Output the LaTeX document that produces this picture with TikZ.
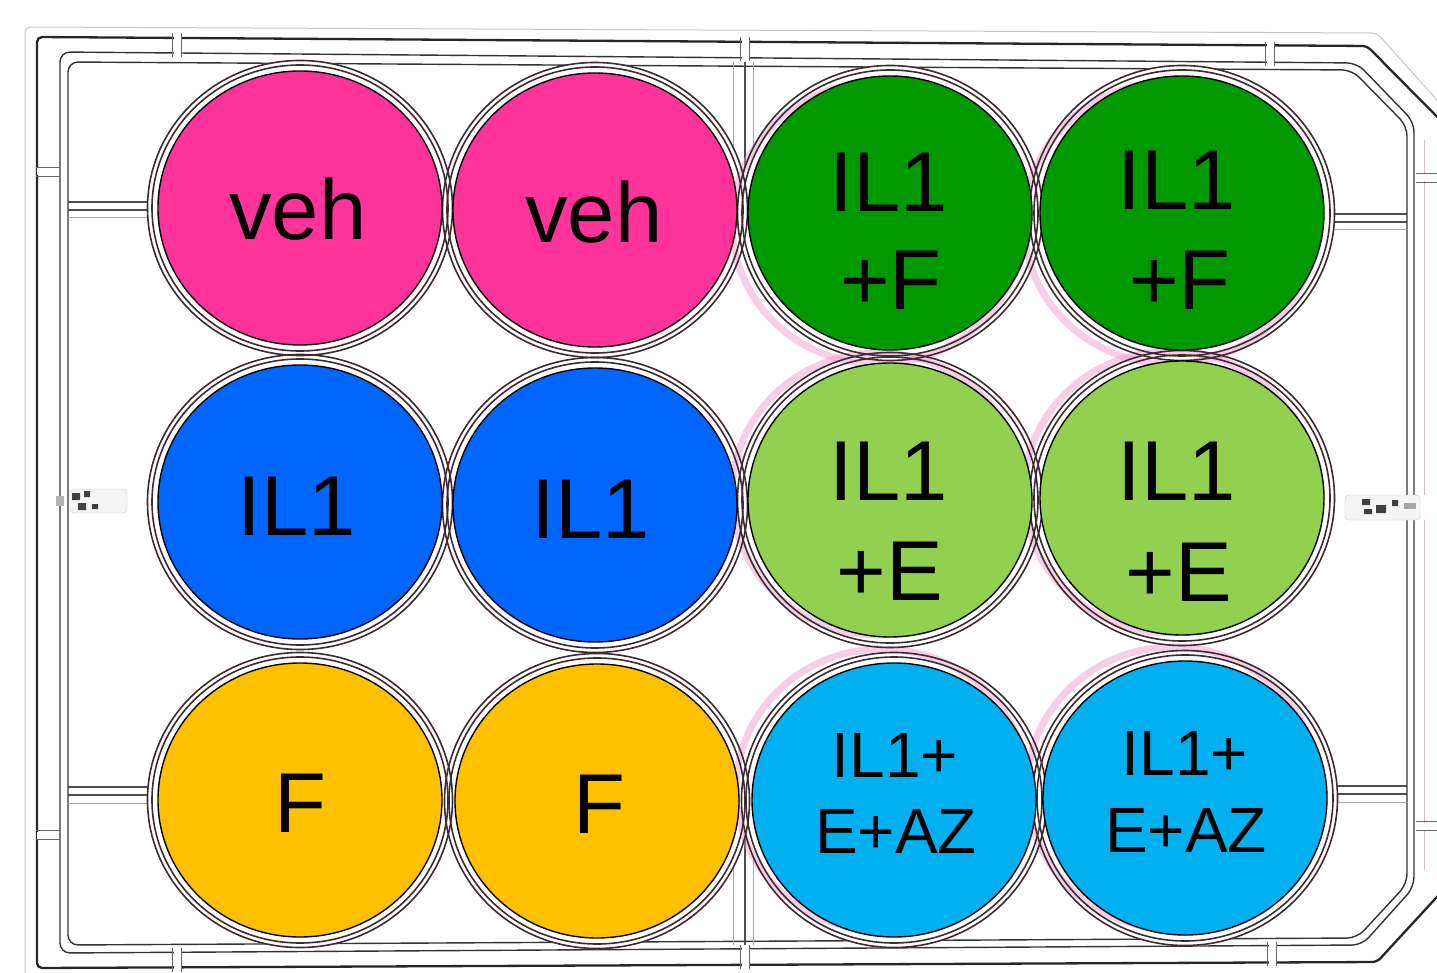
\documentclass[tikz,border=0pt]{standalone}
\usepackage{fontspec}
\setmainfont{Liberation Sans}
\usetikzlibrary{shapes.geometric}

\definecolor{vehpink}{RGB}{255,51,153}
\definecolor{ilblue}{RGB}{0,102,255}
\definecolor{fgold}{RGB}{255,192,0}
\definecolor{ilfgreen}{RGB}{0,153,0}
\definecolor{ilegreen}{RGB}{146,208,80}
\definecolor{azcyan}{RGB}{0,176,240}
\definecolor{rimgray}{RGB}{62,42,50}
\definecolor{pinkhaze}{RGB}{236,150,200}

\begin{document}
\begin{tikzpicture}[x=1pt,y=-1pt,
  well/.style={ellipse, draw=black, line width=1.4pt, minimum width=284pt,
               minimum height=274pt, inner sep=0pt},
  rimline/.style={draw=rimgray, line width=1.6pt},
  lbl/.style={font=\fontsize{85}{98}\selectfont, anchor=base, inner sep=0pt},
  lblsm/.style={font=\fontsize{64}{76}\selectfont, anchor=base, inner sep=0pt},
  outerframe/.style={draw=black!85, line width=2.3pt, rounded corners=5pt},
  innerframe/.style={draw=black!80, line width=1.4pt, rounded corners=10pt},
  ribdark/.style={draw=black!70, line width=1.2pt},
  riblight/.style={draw=black!35, line width=1pt},
  tickline/.style={draw=black!60, line width=1pt},
  gapmark/.pic={
    \fill[white] (-3.5,-11) rectangle (3.5,11);
    \draw[tickline] (-4.5,-12) -- (-4.5,12) (4.5,-12) -- (4.5,12);
  }]

\useasboundingbox (0,0) rectangle (1437,973);
\clip (0,0) rectangle (1437,973);
\fill[white] (0,0) rectangle (1437,973);

% ---------- plate outline ----------
\draw[line width=1pt, black!22, rounded corners=6pt]
  (25,1000) -- (25,27) -- (1377,33) -- (1470,137);
\draw[outerframe]
  (1470,150) -- (1367,46) -- (37,37) -- (37,968) -- (1377,962) -- (1470,861);
\draw[innerframe]
  (60,500) -- (60,52) -- (1357,63) -- (1414,122) -- (1414,887)
  -- (1362,945) -- (60,953) -- cycle;
\draw[innerframe]
  (68,500) -- (68,62) -- (1352,70) -- (1407,126) -- (1407,884)
  -- (1357,938) -- (68,945) -- cycle;
\draw[line width=0.8pt, pinkhaze!60!gray!60] (1424,140) -- (1424,870);

% ---------- ribs between frame and wells ----------
\draw[ribdark] (68,202) -- (200,202) (68,210) -- (200,210);
\draw[riblight] (68,218) -- (200,218);
\draw[ribdark] (68,787) -- (200,787) (68,795) -- (200,795);
\draw[riblight] (68,803) -- (200,803);
\draw[ribdark] (1407,214) -- (1280,214) (1407,222) -- (1280,222);
\draw[riblight] (1407,230) -- (1280,230);
\draw[ribdark] (1407,786) -- (1280,786) (1407,794) -- (1280,794);
\draw[riblight] (1407,802) -- (1280,802);
\draw[riblight] (733,62) -- (733,220) (753,62) -- (753,220)
                (733,945) -- (733,780) (753,945) -- (753,780);
\draw[ribdark] (745,62) -- (745,220) (745,945) -- (745,780);

% ---------- small marks on the frame ----------
\pic at (177,45) {gapmark};
\pic at (745,49) {gapmark};
\pic at (1270,54) {gapmark};
\pic at (177,960) {gapmark};
\pic at (745,957) {gapmark};
\pic at (1272,954) {gapmark};
\pic[rotate=90] at (48,172) {gapmark};
\pic[rotate=90] at (48,835) {gapmark};
\pic[rotate=90] at (1428,178) {gapmark};
\pic[rotate=90] at (1428,826) {gapmark};

% ---------- side tabs ----------
\draw[black!20, fill=black!4, rounded corners=4pt] (70,489) rectangle (127,513);
\fill[black!75] (72,493) rectangle (80,500) (84,491) rectangle (90,497)
                (78,503) rectangle (86,510) (92,504) rectangle (98,509);
\fill[black!30] (56,496) rectangle (64,506);
\fill[white] (1420,495) rectangle (1437,520);
\draw[black!20, fill=black!4, rounded corners=4pt] (1345,495) rectangle (1420,520);
\fill[black!75] (1362,499) rectangle (1370,505) (1376,505) rectangle (1386,513)
                (1392,500) rectangle (1398,506) (1364,509) rectangle (1372,514);
\fill[black!35] (1404,503) rectangle (1416,509);

% ---------- well rims ----------
\foreach \cx/\cy in {300/208,595/210,890/213,1182/213,
                     300/502,595/505,890/500,1182/498,
                     300/800,597/801,894/800,1185/798}
  \fill[white] (\cx,\cy) ellipse [x radius=153pt, y radius=148pt];
\foreach \cx/\cy/\dy in {890/213/10,1182/213/10,890/500/-6,1182/498/-6,
                         894/800/-10,1185/798/-10}
  \draw[pinkhaze, line width=7pt, opacity=0.45]
    (\cx-12,\cy+\dy) ellipse [x radius=146pt, y radius=141pt];
\foreach \cx/\cy in {300/208,595/210,890/213,1182/213,
                     300/502,595/505,890/500,1182/498,
                     300/800,597/801,894/800,1185/798}{
  \draw[rimline] (\cx,\cy) ellipse [x radius=148pt, y radius=143pt];
  \draw[rimline] (\cx,\cy) ellipse [x radius=152.5pt, y radius=147.5pt];
}

% ---------- coloured wells ----------
\node[well, fill=vehpink]  (w11) at (300,208) {};
\node[well, fill=vehpink]  (w12) at (595,210) {};
\node[well, fill=ilfgreen] (w13) at (890,213) {};
\node[well, fill=ilfgreen] (w14) at (1182,213) {};
\node[well, fill=ilblue]   (w21) at (300,502) {};
\node[well, fill=ilblue]   (w22) at (595,505) {};
\node[well, fill=ilegreen] (w23) at (890,500) {};
\node[well, fill=ilegreen] (w24) at (1182,498) {};
\node[well, fill=fgold]    (w31) at (300,800) {};
\node[well, fill=fgold]    (w32) at (597,801) {};
\node[well, fill=azcyan]   (w33) at (894,800) {};
\node[well, fill=azcyan]   (w34) at (1185,798) {};

% ---------- labels ----------
\node[lbl] (t11)  at (298,240) {veh};
\node[lbl] (t12)  at (594,243) {veh};
\node[lbl] (t13a) at (889,212) {IL1};
\node[lbl] (t13b) at (891,310) {+F};
\node[lbl] (t14a) at (1177,210) {IL1};
\node[lbl] (t14b) at (1180,310) {+F};
\node[lbl] (t21)  at (297,535) {IL1};
\node[lbl] (t22)  at (591,538) {IL1};
\node[lbl] (t23a) at (889,500) {IL1};
\node[lbl] (t23b) at (890,600) {+E};
\node[lbl] (t24a) at (1177,500) {IL1};
\node[lbl] (t24b) at (1179,601) {+E};
\node[lbl] (t31)  at (300,832) {F};
\node[lbl] (t32)  at (599,833) {F};
\node[lblsm] (t33a) at (895,777) {IL1+};
\node[lblsm] (t33b) at (896,853) {E+AZ};
\node[lblsm] (t34a) at (1185,775) {IL1+};
\node[lblsm] (t34b) at (1186,852) {E+AZ};

\end{tikzpicture}
\end{document}
